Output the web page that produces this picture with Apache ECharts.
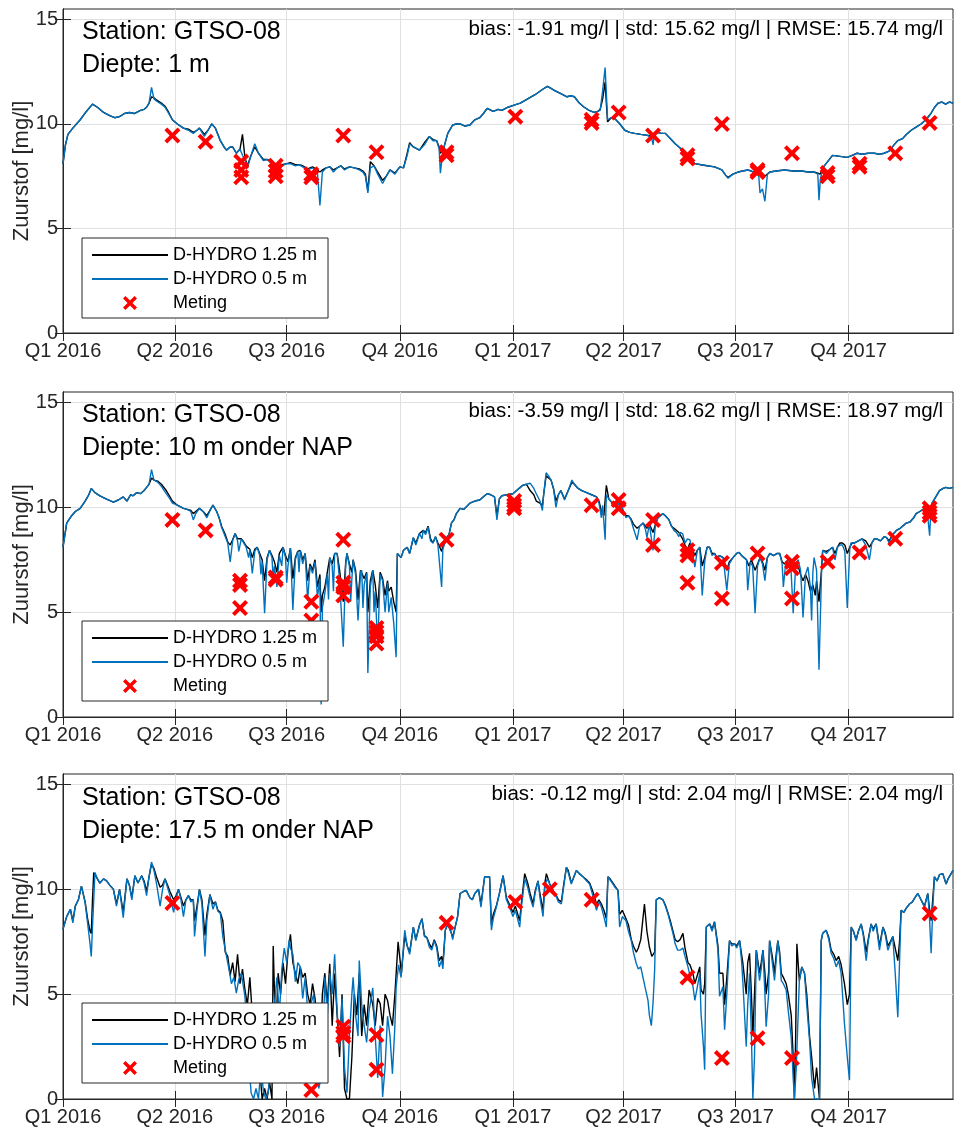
<!DOCTYPE html>
<html><head><meta charset="utf-8">
<script src="https://cdn.jsdelivr.net/npm/echarts@6/dist/echarts.min.js"></script>
<style>html,body{margin:0;padding:0;background:#fff}#c{width:955px;height:1129px}</style>
</head><body><div id="c"></div><script>
// x values are days since 1 Jan 2016
const quarterDays = [0,91,182,274,366,456,547,639];
const quarterLabels = ['Q1 2016','Q2 2016','Q3 2016','Q4 2016','Q1 2017','Q2 2017','Q3 2017','Q4 2017'];
const yTicks = [0,5,10,15];
const seriesNames = ['D-HYDRO 1.25 m','D-HYDRO 0.5 m','Meting'];
const stationTexts = ['Station: GTSO-08','Station: GTSO-08','Station: GTSO-08'];
const depthTexts = ['Diepte: 1 m','Diepte: 10 m onder NAP','Diepte: 17.5 m onder NAP'];
const statTexts = [
 'bias: -1.91 mg/l | std: 15.62 mg/l | RMSE: 15.74 mg/l',
 'bias: -3.59 mg/l | std: 18.62 mg/l | RMSE: 18.97 mg/l',
 'bias: -0.12 mg/l | std: 2.04 mg/l | RMSE: 2.04 mg/l'];
const yName = 'Zuurstof [mg/l]';

const p1Blue = [[0,8.1],[2,9.0],[4,9.5],[8,9.8],[14,10.2],[19,10.6],[24,10.95],[28,10.8],[33,10.55],[38,10.4],[42,10.3],[46,10.35],[50,10.5],[54,10.55],[58,10.5],[63,10.65],[66,10.7],[68,10.8],[70,11.0],[72,11.75],[74,11.2],[76,11.1],[80,10.95],[83,10.8],[86,10.5],[89,10.2],[93,10.0],[98,9.8],[102,9.7],[106,9.55],[109,9.7],[111,9.8],[113,9.6],[115,9.4],[118,9.7],[121,10.0],[124,9.8],[128,9.2],[131,8.9],[133,8.75],[136,8.9],[138,8.9],[141,8.6],[144,8.8],[146,8.5],[148,8.3],[150,7.9],[153,8.5],[156,9.05],[159,8.6],[163,8.25],[166,8.3],[168,8.2],[171,8.0],[174,7.8],[178,8.0],[182,8.1],[185,8.1],[189,8.0],[192,8.05],[195,7.95],[199,7.8],[203,7.9],[207,7.65],[209,6.1],[211,7.7],[214,7.9],[217,7.95],[220,7.7],[223,7.9],[226,8.0],[229,7.8],[233,7.95],[237,7.9],[241,7.8],[244,7.7],[246,7.5],[248,6.7],[250,7.9],[253,8.0],[256,7.6],[260,7.15],[263,7.5],[266,7.8],[270,7.6],[274,7.95],[277,7.9],[280,8.5],[282,9.05],[285,8.9],[290,8.75],[294,9.0],[298,9.4],[301,9.2],[304,9.2],[306,8.8],[307,7.65],[309,8.7],[313,9.55],[317,9.95],[320,10.0],[323,10.0],[327,9.9],[331,9.95],[335,10.2],[339,10.3],[342,10.5],[345,10.75],[350,10.6],[354,10.7],[357,10.65],[362,10.8],[367,10.9],[372,11.0],[378,11.2],[384,11.4],[390,11.65],[394,11.8],[397,11.7],[400,11.6],[405,11.45],[410,11.3],[413,11.35],[416,11.3],[420,11.0],[424,10.8],[428,10.65],[432,10.55],[435,10.6],[437,10.65],[439,11.6],[441,12.7],[442,11.5],[443,10.2],[446,10.3],[449,10.25],[453,10.0],[457,9.7],[461,9.6],[465,9.55],[470,9.5],[476,9.45],[479,9.3],[480,9.0],[481,9.5],[483,9.6],[487,9.55],[490,9.55],[494,9.3],[498,9.05],[502,8.85],[506,8.6],[510,8.35],[514,8.1],[519,8.05],[524,8.0],[530,7.95],[536,7.8],[539,7.55],[541,7.4],[545,7.6],[549,7.7],[553,7.75],[557,7.8],[560,7.75],[563,7.65],[566,7.5],[567,6.7],[569,6.9],[571,6.3],[573,7.6],[575,7.7],[580,7.75],[587,7.8],[594,7.75],[601,7.75],[606,7.7],[611,7.7],[614,7.6],[615,6.35],[616,7.3],[618,7.9],[622,8.2],[626,8.5],[632,8.45],[638,8.4],[642,8.5],[646,8.6],[650,8.55],[655,8.6],[660,8.6],[664,8.55],[668,8.6],[672,8.7],[676,9.0],[679,9.2],[683,9.3],[686,9.5],[690,9.7],[694,9.85],[698,10.0],[702,10.2],[706,10.5],[709,10.8],[712,11.0],[715,11.05],[718,10.95],[721,11.05],[724,11.0]];
const p1Black = [[0,8.1],[2,9.0],[4,9.5],[8,9.8],[14,10.2],[19,10.6],[24,10.95],[28,10.8],[33,10.55],[38,10.4],[42,10.3],[46,10.35],[50,10.5],[54,10.55],[58,10.5],[63,10.65],[66,10.7],[68,10.8],[70,11.0],[72,11.3],[74,11.25],[76,11.15],[80,11.0],[83,10.85],[86,10.55],[89,10.2],[93,10.0],[98,9.8],[102,9.75],[106,9.6],[109,9.7],[111,9.8],[113,9.65],[115,9.5],[118,9.7],[121,10.0],[124,9.8],[128,9.2],[131,8.9],[133,8.75],[136,8.9],[138,8.9],[141,8.6],[144,8.8],[146,9.5],[148,8.4],[150,8.0],[153,8.5],[156,8.9],[159,8.6],[163,8.3],[166,8.3],[168,8.25],[171,8.1],[174,7.9],[178,8.05],[182,8.1],[185,8.15],[189,8.05],[192,8.05],[195,8.0],[199,7.85],[203,7.95],[207,7.8],[209,7.7],[211,7.8],[214,7.9],[217,7.95],[220,7.8],[223,7.9],[226,8.0],[229,7.85],[233,7.95],[237,7.9],[241,7.85],[244,7.75],[246,7.6],[248,6.8],[250,8.2],[253,8.0],[256,7.7],[260,7.3],[263,7.5],[266,7.8],[270,7.65],[274,7.95],[277,7.9],[280,8.6],[282,9.1],[285,8.9],[290,8.75],[294,9.1],[298,9.4],[301,9.25],[304,9.2],[306,8.9],[307,8.6],[309,8.7],[313,9.55],[317,9.95],[320,10.0],[323,10.0],[327,9.9],[331,9.95],[335,10.2],[339,10.3],[342,10.5],[345,10.75],[350,10.6],[354,10.7],[357,10.65],[362,10.8],[367,10.9],[372,11.0],[378,11.2],[384,11.4],[390,11.65],[394,11.8],[397,11.7],[400,11.6],[405,11.45],[410,11.3],[413,11.35],[416,11.3],[420,11.0],[424,10.8],[428,10.65],[432,10.55],[435,10.6],[437,10.7],[439,11.2],[441,12.0],[442,11.0],[443,10.1],[446,10.3],[449,10.25],[453,10.0],[457,9.7],[461,9.6],[465,9.55],[470,9.5],[476,9.45],[479,9.4],[481,9.5],[483,9.6],[487,9.55],[490,9.55],[494,9.3],[498,9.05],[502,8.85],[506,8.6],[510,8.35],[514,8.1],[519,8.05],[524,8.0],[530,7.95],[536,7.8],[539,7.55],[541,7.45],[545,7.6],[549,7.7],[553,7.75],[557,7.8],[560,7.75],[563,7.65],[566,7.6],[569,7.55],[571,7.5],[573,7.6],[575,7.7],[580,7.75],[587,7.8],[594,7.75],[601,7.75],[606,7.7],[611,7.7],[614,7.65],[616,7.6],[618,7.9],[622,8.2],[626,8.5],[632,8.45],[638,8.4],[642,8.5],[646,8.6],[650,8.55],[655,8.6],[660,8.6],[664,8.55],[668,8.6],[672,8.7],[676,9.0],[679,9.2],[683,9.3],[686,9.5],[690,9.7],[694,9.85],[698,10.0],[702,10.2],[706,10.5],[709,10.8],[712,11.0],[715,11.05],[718,10.95],[721,11.05],[724,11.0]];
const p1Meting = [[89,9.45],[116,9.15],[145,8.2],[145,7.8],[145,7.45],[173,8.0],[173,7.75],[173,7.5],[202,7.6],[202,7.45],[228,9.45],[255,8.65],[312,8.65],[312,8.5],[368,10.35],[430,10.2],[430,10.05],[452,10.55],[480,9.45],[508,8.5],[508,8.35],[536,10.0],[565,7.8],[565,7.7],[593,8.6],[622,7.65],[622,7.5],[648,8.1],[648,7.95],[677,8.6],[705,10.05]];

const p2Blue = [[0,8.1],[3,9.25],[7,9.6],[10,9.8],[14,9.95],[18,10.3],[21,10.6],[23,10.9],[26,10.7],[30,10.55],[35,10.4],[41,10.25],[45,10.35],[49,10.5],[52,10.3],[55,10.6],[57,10.55],[60,10.7],[63,10.65],[66,10.8],[68,10.95],[70,11.1],[72,11.8],[74,11.3],[77,11.2],[80,11.0],[84,10.65],[87,10.4],[89,10.2],[93,10.1],[98,9.95],[101,9.9],[104,9.8],[106,9.4],[108,9.7],[111,9.95],[114,9.8],[117,9.5],[120,9.9],[122,10.1],[125,9.8],[127,9.5],[129,9.05],[132,8.6],[134,8.3],[136,7.4],[138,8.4],[140,8.75],[142,8.4],[143,7.9],[145,8.5],[147,8.3],[149,8.1],[151,7.6],[152,8.0],[154,6.85],[156,7.9],[158,8.1],[160,7.7],[161,6.8],[162,7.4],[164,4.95],[166,7.5],[168,7.95],[170,7.6],[171,6.6],[172,7.2],[174,6.2],[176,7.7],[178,7.2],[179,8.1],[181,7.6],[182,6.4],[183,7.2],[185,8.05],[187,5.1],[189,7.5],[191,7.9],[192,6.9],[193,7.95],[195,7.3],[197,7.8],[199,5.55],[201,7.2],[203,6.85],[205,7.4],[207,5.7],[209,6.6],[210,0.6],[211,5.2],[213,5.9],[215,6.8],[216,5.6],[217,7.6],[219,7.2],[220,6.0],[221,7.8],[223,7.8],[225,6.5],[228,3.35],[230,7.3],[231,7.8],[233,7.2],[234,5.5],[235,6.6],[236,7.5],[238,6.8],[240,4.6],[242,6.9],[243,7.0],[244,5.2],[245,6.3],[247,6.85],[248,2.1],[250,6.2],[252,7.0],[253,5.0],[254,6.0],[256,3.35],[258,6.8],[260,6.5],[262,5.0],[264,6.4],[265,5.0],[267,5.7],[269,4.5],[271,2.85],[272,7.8],[275,7.6],[277,7.95],[280,8.1],[282,7.8],[285,8.55],[287,8.2],[290,8.75],[292,8.5],[293,8.9],[295,8.7],[297,9.05],[299,8.4],[301,8.3],[303,8.6],[305,8.2],[308,6.2],[309,8.0],[312,8.55],[314,8.7],[316,9.25],[318,9.4],[320,9.7],[323,9.95],[326,9.9],[331,10.2],[335,10.3],[339,10.35],[342,10.5],[345,10.65],[348,10.6],[351,10.5],[353,9.4],[355,10.4],[357,10.55],[361,10.6],[366,10.65],[369,10.8],[372,10.95],[374,11.05],[377,11.1],[380,11.15],[383,10.9],[385,10.65],[388,10.3],[390,9.85],[391,10.6],[393,11.65],[395,11.5],[397,11.3],[399,10.9],[401,10.0],[403,10.6],[405,10.8],[408,10.35],[411,10.8],[414,11.3],[416,11.1],[419,10.9],[422,10.8],[426,10.7],[430,10.6],[434,10.5],[436,10.2],[438,9.5],[439,10.1],[441,8.45],[442,10.6],[444,10.4],[447,10.2],[450,10.1],[453,10.2],[456,9.8],[458,9.5],[460,9.6],[462,9.4],[464,9.0],[467,8.45],[469,9.1],[472,9.25],[474,8.9],[475,8.55],[477,9.2],[480,7.95],[482,9.2],[484,9.5],[486,9.6],[488,9.7],[490,9.6],[493,9.4],[495,9.1],[497,8.9],[499,8.8],[501,8.6],[502,8.8],[504,8.75],[506,8.3],[508,8.5],[510,8.45],[512,7.9],[514,7.15],[516,7.95],[518,8.1],[520,5.8],[522,7.4],[524,8.1],[526,8.1],[528,7.7],[530,7.8],[532,7.5],[534,7.7],[537,7.6],[540,6.05],[542,7.3],[545,7.6],[548,7.8],[550,7.85],[552,7.7],[554,7.6],[556,7.5],[557,6.05],[559,7.4],[561,7.2],[563,4.95],[565,7.2],[567,7.6],[569,7.3],[571,6.5],[573,7.6],[575,7.8],[578,7.7],[581,7.8],[583,7.8],[585,7.3],[586,6.2],[588,7.4],[590,7.5],[592,7.3],[594,4.95],[596,7.2],[598,7.5],[600,7.0],[602,4.75],[604,6.8],[606,7.15],[608,6.2],[609,4.6],[610,6.9],[611,7.6],[613,7.0],[615,2.25],[617,6.8],[618,7.95],[621,7.8],[624,8.0],[626,8.1],[628,7.5],[630,8.1],[632,8.2],[634,8.2],[636,7.9],[638,5.2],[640,8.0],[641,8.3],[644,8.3],[647,8.4],[650,8.5],[653,8.2],[656,7.5],[658,8.3],[660,8.5],[662,8.5],[665,8.4],[668,8.6],[670,8.55],[672,8.3],[675,8.7],[678,8.9],[681,9.0],[684,9.15],[686,9.25],[689,9.3],[692,9.5],[694,9.7],[697,9.8],[701,9.95],[703,9.8],[705,8.65],[706,9.9],[707,10.2],[710,10.5],[713,10.8],[716,10.9],[718,10.95],[721,10.9],[724,10.95]];
const p2Black = [[0,8.1],[3,9.25],[7,9.6],[10,9.8],[14,9.95],[18,10.3],[21,10.6],[23,10.9],[26,10.7],[30,10.55],[35,10.4],[41,10.25],[45,10.35],[49,10.5],[52,10.3],[55,10.6],[57,10.55],[60,10.7],[63,10.65],[66,10.8],[68,10.95],[70,11.1],[72,11.4],[74,11.3],[77,11.25],[80,11.1],[84,10.8],[87,10.5],[89,10.3],[93,10.1],[98,9.95],[101,9.9],[104,9.85],[106,9.7],[108,9.8],[111,9.95],[114,9.8],[117,9.6],[120,9.9],[122,10.1],[125,9.8],[127,9.5],[129,9.1],[132,8.7],[134,8.35],[136,8.2],[138,8.45],[140,8.75],[142,8.5],[145,8.5],[147,8.35],[149,8.15],[152,8.0],[154,7.6],[156,8.0],[158,8.1],[160,7.8],[162,7.5],[164,6.5],[166,7.6],[168,7.95],[170,7.7],[172,7.4],[174,6.9],[176,7.8],[179,8.1],[181,7.7],[183,7.4],[185,8.05],[187,6.6],[189,7.6],[191,7.9],[193,7.95],[195,7.5],[197,7.8],[199,6.5],[201,7.3],[203,7.0],[205,7.5],[207,6.2],[209,6.8],[210,5.0],[211,5.8],[213,6.2],[215,6.9],[217,7.6],[219,7.3],[221,7.8],[223,7.8],[225,7.0],[228,5.5],[230,7.4],[231,7.8],[233,7.3],[235,6.9],[236,7.5],[238,7.0],[240,5.6],[242,7.0],[243,7.0],[245,6.6],[247,6.9],[248,5.0],[250,6.5],[252,7.0],[254,6.3],[256,5.2],[258,6.9],[260,6.6],[262,5.8],[264,6.5],[265,6.0],[267,6.2],[269,5.5],[271,5.0],[272,7.8],[275,7.6],[277,7.95],[280,8.1],[282,7.8],[285,8.55],[287,8.3],[290,8.75],[293,8.9],[295,8.8],[297,9.1],[299,8.5],[301,8.3],[303,8.6],[305,8.3],[308,7.9],[309,8.1],[312,8.55],[314,8.7],[316,9.25],[318,9.4],[320,9.7],[323,9.95],[326,9.9],[331,10.2],[335,10.3],[339,10.35],[342,10.5],[345,10.65],[348,10.6],[351,10.5],[353,9.6],[355,10.4],[357,10.55],[361,10.6],[366,10.65],[369,10.8],[372,10.95],[374,11.05],[377,11.1],[380,10.8],[383,10.6],[385,10.3],[388,10.2],[390,10.1],[391,10.6],[393,11.5],[395,11.4],[397,11.3],[399,10.9],[401,10.3],[403,10.6],[405,10.8],[408,10.4],[411,10.8],[414,11.2],[416,11.1],[419,10.9],[422,10.8],[426,10.7],[430,10.6],[434,10.5],[436,10.3],[438,9.8],[440,9.6],[442,11.05],[444,10.4],[447,10.2],[450,10.1],[453,10.2],[456,9.8],[458,9.6],[460,9.6],[462,9.45],[464,9.2],[467,9.0],[469,9.1],[472,9.25],[475,9.0],[477,9.2],[480,8.8],[482,9.2],[484,9.5],[486,9.6],[488,9.7],[490,9.6],[493,9.4],[495,9.1],[497,9.0],[499,8.9],[501,8.8],[504,8.5],[506,8.2],[508,8.0],[510,8.3],[512,8.0],[514,7.7],[516,7.95],[518,8.1],[520,7.2],[522,7.6],[524,8.1],[526,8.1],[528,7.8],[530,7.8],[532,7.6],[534,7.7],[537,7.6],[540,7.0],[542,7.4],[545,7.6],[548,7.8],[550,7.85],[552,7.7],[554,7.6],[556,7.5],[558,7.2],[560,7.5],[563,7.0],[565,7.3],[567,7.6],[569,7.4],[571,7.0],[573,7.6],[575,7.8],[578,7.7],[581,7.8],[583,7.8],[585,7.4],[587,7.3],[590,7.5],[592,7.3],[594,7.0],[596,7.3],[598,7.2],[600,6.8],[602,6.5],[604,6.8],[606,6.5],[608,6.0],[610,6.3],[612,5.8],[613,6.5],[615,5.5],[617,7.0],[618,7.95],[621,7.9],[624,8.0],[626,8.1],[628,7.8],[630,8.1],[632,8.3],[634,8.3],[636,8.2],[638,7.8],[640,8.1],[642,8.3],[644,8.3],[647,8.4],[650,8.5],[653,8.4],[656,8.1],[658,8.3],[660,8.5],[662,8.5],[665,8.4],[668,8.6],[670,8.55],[672,8.4],[675,8.7],[678,8.9],[681,9.0],[684,9.15],[686,9.25],[689,9.3],[692,9.5],[694,9.7],[697,9.8],[701,9.95],[703,9.9],[705,9.6],[707,10.2],[710,10.5],[713,10.8],[716,10.9],[718,10.95],[721,10.9],[724,10.95]];
const p2Meting = [[89,9.4],[116,8.9],[144,6.5],[144,6.3],[144,5.2],[173,6.65],[173,6.55],[202,5.5],[202,4.6],[228,8.45],[228,6.4],[228,6.2],[228,5.8],[255,4.25],[255,4.05],[255,3.85],[255,3.5],[312,8.45],[367,10.3],[367,10.1],[367,9.95],[430,10.1],[452,10.35],[452,9.95],[480,9.4],[480,8.2],[508,7.95],[508,7.7],[508,6.4],[536,7.35],[536,5.65],[565,7.8],[593,7.4],[593,7.1],[593,5.65],[622,7.4],[648,7.85],[677,8.5],[705,9.95],[705,9.75],[705,9.6]];

const p3Blue = [[0,8.1],[3,8.7],[6,9.05],[8,8.4],[10,9.2],[12.5,9.5],[15,10.15],[18,9.35],[20,8.4],[22,7.4],[23,6.8],[24,8.2],[26,10.8],[28,10.5],[30,10.3],[33,10.5],[35.5,10.4],[38,10.2],[41,10.0],[43.5,9.2],[46,10.0],[49,8.65],[52,10.5],[54,10.2],[56,9.5],[58.5,10.65],[61,10.3],[64,10.65],[66,10.3],[68,9.7],[70,10.6],[72,11.3],[74,10.9],[76,10.3],[79,9.2],[81,10.0],[83,10.5],[85,10.1],[87,9.7],[90,8.9],[92,9.6],[94,10.0],[96,9.5],[98,8.7],[100,9.5],[102,9.7],[104,9.4],[106,9.5],[107,7.75],[109,9.0],[111,10.0],[113,9.3],[115.5,6.8],[117,8.5],[119.5,9.75],[122,9.05],[124,9.4],[126,8.95],[128,8.85],[130,7.75],[133,6.8],[135,6.2],[137,5.5],[139,5.8],[141,5.05],[143,5.7],[145,6.0],[148,4.9],[150,3.0],[151,2.0],[153,0.3],[155,0],[157,0.5],[159,0],[161,1.5],[163,0.4],[165,0],[167,0.3],[170,2.5],[172,4.5],[174,5.8],[176,4.0],[178,6.2],[180,7.2],[182,6.5],[184,7.6],[185,7.2],[187,6.9],[189,5.6],[191,6.5],[193,6.3],[195,4.8],[197,5.8],[198,5.8],[200,3.5],[202,4.6],[204,5.0],[206,2.0],[208,0.5],[210,1.0],[212,3.5],[213,5.8],[215,4.0],[217,6.0],[219,5.0],[221,6.9],[223,4.2],[225,2.5],[227,4.8],[229,1.5],[231,0.3],[233,3.0],[235,5.0],[236,5.8],[238,4.0],[240,3.0],[241,6.6],[243,4.5],[245,3.5],[247,2.7],[249,4.2],[252,5.3],[254,3.0],[256,1.0],[258,3.5],[260,0.1],[262,1.5],[264,3.95],[266,3.0],[268,1.2],[270,3.5],[271,5.35],[273,6.4],[275,5.8],[278,8.05],[280,7.3],[282,6.9],[285,8.2],[287,7.55],[290,8.3],[292,8.6],[294,7.75],[296,7.7],[298,7.25],[300,7.1],[302,7.55],[304,7.2],[306,6.3],[308,6.6],[309,6.2],[311,8.05],[313,8.35],[316,7.9],[317,7.6],[319,8.2],[321,8.7],[323,9.8],[326,9.9],[328,9.95],[331,9.6],[333,9.5],[335,9.8],[338,10.0],[340,9.15],[343,10.6],[347,10.6],[348.5,8.05],[350,8.6],[352.5,9.15],[355,9.8],[358,10.65],[360.7,9.5],[363,9.2],[366,8.7],[368,9.0],[371.5,8.2],[373,9.2],[375.6,10.5],[378,10.1],[380,9.6],[382.4,9.15],[384,9.8],[386.4,10.4],[388,9.6],[390.5,8.7],[392,10.2],[394,10.5],[396,10.25],[399,9.9],[401.3,9.65],[403,9.4],[405.4,9.3],[407,10.0],[409.5,11.05],[411,10.8],[413.5,10.25],[415,10.5],[417.6,10.9],[420,10.75],[423,10.6],[426,10.4],[428.4,10.25],[431,9.7],[434,9.0],[436,9.4],[438,9.15],[440,8.7],[442,8.2],[443.3,10.6],[445,10.45],[447.4,10.25],[449,10.1],[451.5,9.95],[452.8,8.2],[455,8.7],[458,8.5],[460,8.0],[462.3,7.55],[464,7.0],[466.4,6.45],[468,6.2],[470,6.3],[471.8,5.8],[474,5.2],[475.9,4.7],[477,4.0],[478.6,3.5],[480,4.6],[481.3,6.15],[482.6,9.5],[485,9.6],[488,9.5],[490,9.2],[492,8.85],[494,8.4],[496.2,7.9],[498,7.4],[500,7.1],[502,7.1],[504.3,7.2],[506,6.8],[508.4,6.3],[510,5.9],[512.4,5.4],[514,4.7],[516.5,5.5],[518,6.0],[519,4.1],[521,2.5],[522,1.4],[523.3,8.2],[526,8.35],[528,8.0],[530,8.45],[532.8,7.1],[534.1,4.9],[536.8,5.35],[538.2,3.3],[540,5.0],[542.2,7.55],[544,7.3],[546.3,7.4],[548,7.2],[550.4,7.55],[552,6.6],[553,5.65],[555.8,2.5],[557,4.5],[558.5,6.0],[560,3.0],[561.2,0],[562.5,2.0],[564,7.1],[566.6,5.65],[568,6.2],[569.4,7.1],[571,5.0],[572,3.45],[574,5.0],[574.8,7.55],[577,6.5],[578.8,5.65],[580,6.5],[581.5,7.55],[583,6.8],[584.3,5.65],[586,5.5],[588.3,5.2],[590,4.2],[592.4,2.95],[594,1.0],[595,0],[596.5,1.5],[598,4.0],[599,5.65],[601,6.3],[603.2,6.0],[605,4.5],[607.3,2.8],[609,1.0],[611.4,0],[613,0],[615.4,0],[616.8,7.55],[618,7.9],[620.8,8.05],[623,7.6],[624.9,6.95],[627,6.7],[629,6.3],[631,6.6],[633,6.0],[635.7,3.6],[638,2.0],[639.8,0.9],[641.2,8.2],[643,8.0],[645.2,7.55],[647,8.0],[649.3,8.35],[651,7.8],[653.4,6.6],[655,7.5],[657.4,8.35],[659,8.0],[661.5,8.35],[664.2,7.1],[667,8.2],[669,7.8],[671,7.1],[673,7.4],[675,7.75],[677,6.0],[679.1,3.9],[680.5,6.5],[681.8,9.0],[684,8.9],[686,9.1],[688.6,9.3],[691,9.4],[693,9.6],[695.4,9.8],[698,9.5],[700.8,9.15],[703.5,9.8],[705,8.5],[706.2,6.95],[707.5,9.0],[708.9,10.6],[711,10.4],[713,10.7],[715.7,10.75],[718.4,10.25],[720,10.5],[722,10.7],[724,10.9]];
const p3Black = [[0,8.1],[3,8.7],[6,9.05],[8,8.5],[10,9.2],[12.5,9.5],[15,10.15],[18,9.4],[20,8.6],[22,8.0],[23,7.9],[24,9.5],[25,10.8],[28,10.5],[30,10.3],[33,10.5],[35.5,10.4],[38,10.2],[41,10.0],[43.5,9.3],[46,10.0],[49,8.9],[52,10.5],[54,10.2],[56,9.6],[58.5,10.65],[61,10.3],[64,10.65],[66,10.4],[68,9.9],[70,10.6],[72,11.2],[74,11.0],[76,10.6],[79,10.1],[81,10.2],[83,10.5],[85,10.2],[87,9.9],[90,9.5],[92,9.7],[94,10.0],[96,9.6],[98,9.2],[100,9.5],[102,9.7],[104,9.5],[106,9.5],[107,8.5],[109,9.2],[111,10.0],[113,9.5],[115.5,7.8],[117,8.8],[119.5,9.75],[122,9.3],[124,9.4],[126,9.0],[128,8.9],[130,8.5],[132,7.0],[134,6.8],[136,5.9],[138,6.5],[140,5.6],[142,6.9],[144,5.5],[146,6.2],[148,5.2],[150,4.5],[152,5.8],[154,4.0],[156,3.0],[158,4.5],[160,1.5],[162,0],[164,0.5],[166,0],[168,0.8],[170,0],[171,7.3],[173,3.0],[175,6.0],[177,5.0],[179,6.5],[181,5.5],[183,7.0],[185,7.85],[187,6.5],[189,6.0],[191,5.5],[193,6.3],[195,5.8],[197,6.0],[199,5.0],[201,4.5],[203,5.5],[205,4.8],[207,3.5],[209,2.0],[211,5.0],[213,6.0],[215,4.5],[217,6.45],[219,3.5],[221,5.98],[223,4.0],[225,2.0],[227,5.0],[229,0.5],[231,0],[233,0],[235,2.0],[237,5.0],[239,4.0],[241,6.0],[243,3.0],[245,4.5],[247,3.5],[249,5.2],[252,4.5],[254,3.5],[256,4.8],[258,4.55],[260,3.5],[262,5.0],[264,4.7],[266,4.0],[268,3.5],[270,5.0],[272.6,7.5],[275.3,6.0],[278,7.8],[280,7.3],[282,7.0],[285,8.2],[287,7.6],[290,8.3],[292,8.6],[294,7.8],[296,7.7],[298,7.4],[300,7.2],[302,7.6],[304,7.3],[306,6.6],[308,6.8],[309,6.4],[311,8.05],[313,8.35],[316,7.9],[317,7.7],[319,8.2],[321,8.7],[323,9.8],[326,9.9],[328,9.95],[331,9.6],[333,9.5],[335,9.8],[338,10.0],[340,9.3],[343,10.6],[347,10.6],[348.5,8.3],[350,8.8],[352.5,9.2],[355,9.8],[358,10.65],[360.7,9.6],[363,9.3],[366,8.9],[368,9.2],[371.5,8.5],[373,9.4],[375.6,10.75],[378,10.3],[380,9.8],[382.4,9.3],[384,9.9],[386.4,10.4],[388,9.8],[390.5,9.0],[392,10.3],[393.2,10.75],[396,10.25],[399,9.9],[401.3,9.7],[403,9.5],[405.4,9.4],[407,10.1],[409.5,11.05],[411,10.9],[413.5,10.3],[415,10.5],[417.6,10.9],[420,10.75],[423,10.6],[426,10.45],[428.4,10.3],[431,9.9],[434,9.3],[436,9.5],[438,9.3],[440,9.0],[442,8.6],[443.3,10.6],[445,10.5],[447.4,10.3],[449,10.15],[451.5,9.95],[452.8,8.8],[455,9.0],[458,8.6],[460,8.3],[462.3,7.6],[464,7.3],[466.4,7.0],[468,7.2],[470,7.6],[473,9.3],[475,8.0],[477,7.25],[479,6.8],[481.3,7.0],[482.6,9.5],[485,9.6],[488,9.5],[490,9.25],[492,8.9],[494,8.5],[496.2,8.0],[498,7.6],[500,7.5],[502,7.6],[504.3,7.9],[506,7.2],[508.4,6.5],[510,6.4],[512.4,6.0],[514,5.5],[516.5,6.0],[518,6.3],[519,5.2],[521,5.0],[522,5.5],[523.3,8.2],[526,8.35],[528,8.1],[530,8.45],[532.8,7.3],[534.1,6.0],[536.8,6.0],[538.2,4.5],[540,5.8],[542.2,7.55],[544,7.4],[546.3,7.4],[548,7.3],[550.4,7.55],[552,6.9],[553,6.5],[555.8,5.0],[557,6.5],[558.5,6.95],[560,5.0],[561.2,3.0],[562.5,5.0],[564,7.1],[566.6,6.0],[568,6.5],[569.4,7.1],[571,6.0],[572,5.0],[574,6.0],[574.8,7.55],[577,6.8],[578.8,6.0],[580,6.8],[581.5,7.55],[583,7.0],[584.3,6.0],[586,5.8],[588.3,5.5],[590,5.0],[592.4,4.0],[594,2.0],[595,0],[596,3.0],[597,7.4],[599,5.65],[601,6.3],[603.2,6.0],[605,5.0],[607.3,3.0],[609,2.0],[611.4,0.5],[613,1.5],[615.4,0],[616.8,7.55],[618,7.9],[620.8,8.05],[623,7.7],[624.9,7.1],[627,6.9],[629,6.6],[631,6.8],[633,6.4],[635.7,5.5],[638,4.5],[639.8,5.0],[641.2,8.2],[643,8.0],[645.2,7.6],[647,8.0],[649.3,8.35],[651,7.9],[653.4,7.0],[655,7.6],[657.4,8.35],[659,8.1],[661.5,8.35],[664.2,7.3],[667,8.2],[669,7.9],[671,7.3],[673,7.5],[675,7.75],[677,7.2],[679.1,6.6],[680.5,7.5],[681.8,9.0],[684,8.9],[686,9.1],[688.6,9.3],[691,9.4],[693,9.6],[695.4,9.8],[698,9.5],[700.8,9.2],[703.5,9.8],[705,9.0],[706.2,8.5],[707.5,9.5],[708.9,10.6],[711,10.4],[713,10.7],[715.7,10.75],[718.4,10.25],[720,10.5],[722,10.7],[724,10.9]];
const p3Meting = [[89,9.35],[202,0.43],[228,3.45],[228,3.15],[228,3.0],[255,3.05],[255,1.4],[312,8.4],[368,9.4],[396,10.0],[430,9.5],[508,5.8],[536,1.95],[565,2.9],[593,1.95],[705,8.85]];

const panels = [
  {black:p1Black, blue:p1Blue, meting:p1Meting},
  {black:p2Black, blue:p2Blue, meting:p2Meting},
  {black:p3Black, blue:p3Blue, meting:p3Meting}
];
const layout = [{top:9,h:324,legendTop:238,t1:30,t2:63,ts:27},
                {top:392,h:325,legendTop:621,t1:413,t2:446,ts:409},
                {top:774,h:325,legendTop:1003,t1:796,t2:829,ts:792}];
const XMAX = 724, YMAX = 15.5;
const FONT = 'Liberation Sans, Arial, Helvetica, sans-serif';
const XPATH = 'path://M0,2.8L2.8,0L8,5.2L13.2,0L16,2.8L10.8,8L16,13.2L13.2,16L8,10.8L2.8,16L0,13.2L5.2,8Z';
const AX = '#262626', GRIDC = '#e0e0e0', BLUE = '#0072BD';

const grid=[], xAxis=[], yAxis=[], series=[], legend=[], graphic=[];
layout.forEach((L,i)=>{
  grid.push({left:63, right:2, top:L.top, height:L.h, show:true, borderColor:AX, borderWidth:1,
    backgroundColor:'#fff', containLabel:false, outerBoundsMode:'none'});
  xAxis.push({type:'value', gridIndex:i, min:0, max:XMAX, position:'bottom',
    axisLine:{show:true, lineStyle:{color:AX}},
    axisTick:{show:true, inside:true, length:8, customValues:quarterDays, lineStyle:{color:AX}},
    axisLabel:{show:true, customValues:quarterDays, margin:8, fontSize:20, color:'#262626', fontFamily:FONT,
      formatter:(v)=>{const k=quarterDays.indexOf(Math.round(v)); return k>=0?quarterLabels[k]:'';}},
    splitLine:{show:true, customValues:quarterDays, lineStyle:{color:GRIDC, width:1}}});
  xAxis.push({type:'value', gridIndex:i, min:0, max:XMAX, position:'top',
    axisLine:{show:true, lineStyle:{color:AX}},
    axisTick:{show:true, inside:true, length:8, customValues:quarterDays, lineStyle:{color:AX}},
    axisLabel:{show:false}, splitLine:{show:false}});
  yAxis.push({type:'value', gridIndex:i, min:0, max:YMAX, interval:5, position:'left',
    name:yName, nameLocation:'middle', nameGap:30, nameRotate:90, nameMoveOverlap:false,
    nameTextStyle:{fontSize:22, color:'#262626', fontFamily:FONT},
    axisLine:{show:true, lineStyle:{color:AX}},
    axisTick:{show:true, inside:true, length:8, customValues:yTicks, lineStyle:{color:AX}},
    axisLabel:{customValues:yTicks, margin:5, fontSize:20, color:'#262626', fontFamily:FONT},
    splitLine:{show:true, lineStyle:{color:GRIDC, width:1}}});
  yAxis.push({type:'value', gridIndex:i, min:0, max:YMAX, interval:5, position:'right',
    axisLine:{show:true, lineStyle:{color:AX}},
    axisTick:{show:true, inside:true, length:8, customValues:yTicks, lineStyle:{color:AX}},
    axisLabel:{show:false}, splitLine:{show:false}});
  const P = panels[i];
  series.push({name:seriesNames[0], type:'line', xAxisIndex:2*i, yAxisIndex:2*i, data:P.black,
    symbol:'none', lineStyle:{color:'#000', width:1.4}, itemStyle:{color:'#000'}, z:2, clip:true});
  series.push({name:seriesNames[1], type:'line', xAxisIndex:2*i, yAxisIndex:2*i, data:P.blue,
    symbol:'none', lineStyle:{color:BLUE, width:1.4}, itemStyle:{color:BLUE}, z:3, clip:true});
  series.push({name:seriesNames[2], type:'scatter', xAxisIndex:2*i, yAxisIndex:2*i, data:P.meting,
    symbol:XPATH, symbolSize:16, itemStyle:{color:'#ff0000', opacity:1}, z:4});
  legend.push({orient:'vertical', left:82, top:L.legendTop, selectedMode:false,
    itemWidth:76, itemHeight:14, itemGap:6, padding:[8,11,6,9],
    backgroundColor:'#fff', borderColor:AX, borderWidth:1, z:10,
    textStyle:{fontSize:18, color:'#000', fontFamily:FONT},
    data:[{name:seriesNames[0], itemStyle:{opacity:0}},
          {name:seriesNames[1], itemStyle:{opacity:0}},
          {name:seriesNames[2], icon:XPATH}]});
  graphic.push({type:'text', left:82, top:L.t1-10, z:20, style:{text:stationTexts[i], font:'25px '+FONT, fill:'#000'}});
  graphic.push({type:'text', left:82, top:L.t2-10, z:20, style:{text:depthTexts[i], font:'25px '+FONT, fill:'#000'}});
  graphic.push({type:'text', right:12, top:L.ts-8, z:20, style:{text:statTexts[i], font:'20.5px '+FONT, fill:'#000'}});
});

const chart = echarts.init(document.getElementById('c'), null, {renderer:'canvas'});
chart.setOption({animation:false, backgroundColor:'#fff', grid, xAxis, yAxis, series, legend, graphic});
</script></body></html>
